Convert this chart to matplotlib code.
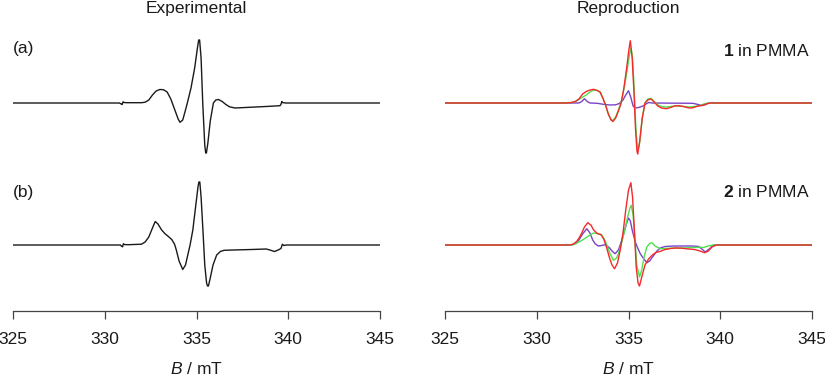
import matplotlib
matplotlib.use("Agg")
import matplotlib.pyplot as plt

plt.rcParams['font.family'] = ['Liberation Sans', 'DejaVu Sans']
plt.rcParams['mathtext.fontset'] = 'custom'
plt.rcParams['mathtext.rm'] = 'Liberation Sans'
plt.rcParams['mathtext.it'] = 'Liberation Sans:italic'
plt.rcParams['mathtext.bf'] = 'Liberation Sans:bold'

# ---------------------------------------------------------------- data --- #
# field (mT) and intensity (arb. units)

# experimental (a) - 1 in PMMA
exp_a_B = [325.0, 330.8, 330.9, 330.95, 331.0, 331.05, 331.2, 332.0, 332.2, 332.4,
           332.6, 332.8, 333.0, 333.2, 333.4, 333.6, 333.8, 334.0, 334.1, 334.25,
           334.4, 334.5, 334.7, 334.9, 335.05, 335.12, 335.17, 335.25, 335.34, 335.45,
           335.5, 335.54, 335.62, 335.75, 335.92, 336.05, 336.2, 336.4, 336.6, 336.8,
           337.1, 338.0, 339.0, 339.55, 339.6, 339.65, 339.7, 339.9, 345.0]
exp_a_I = [0, 0, -1.0, -1.5, 1.2, 0.5, 0.3, 0.3, 0.8, 3,
           8, 12, 13.5, 13.3, 11, 4, -6, -16, -19.3, -17,
           -7, 0, 15, 35, 55, 63, 63, 45, 0, -42,
           -50, -50, -40, -18, 0, 3, 3.5, 1.5, -1.5, -3.8,
           -5, -4.2, -3.3, -2.7, -1.5, 1.5, 0.3, 0, 0]

# experimental (b) - 2 in PMMA
exp_b_B = [325.0, 330.85, 330.92, 330.97, 331.02, 331.08, 331.3, 332.0, 332.2, 332.4,
           332.6, 332.75, 332.9, 333.1, 333.3, 333.5, 333.65, 333.8, 333.9, 334.05,
           334.25, 334.4, 334.55, 334.65, 334.8, 334.95, 335.08, 335.13, 335.18, 335.25,
           335.35, 335.45, 335.55, 335.6, 335.65, 335.75, 335.9, 336.1, 336.3, 336.5,
           337.0, 338.0, 338.8, 339.0, 339.25, 339.45, 339.6, 339.68, 339.75, 339.9,
           345.0]
exp_b_I = [0, 0, -1.3, -1.8, 1.3, 0.4, 0.3, 0.8, 3, 8,
           17, 23.5, 21, 15, 11, 8, 5.5, 1, -5, -16,
           -24.5, -20, -8, 0, 15, 38, 58, 63, 63, 48,
           15, -20, -38, -41, -41, -33, -20, -10, -6.5, -5.3,
           -5, -4.5, -4, -5, -6.5, -5, -3.5, 0.8, -0.5, 0,
           0]

# reproduction (a)
rep_a_red_B = [325.0, 331.6, 331.9, 332.1, 332.3, 332.5, 332.7, 332.9, 333.1, 333.3,
               333.45, 333.6, 333.75, 333.9, 334.05, 334.15, 334.3, 334.45, 334.6, 334.75,
               334.9, 335.02, 335.1, 335.2, 335.3, 335.38, 335.46, 335.5, 335.6, 335.75,
               335.9, 336.05, 336.22, 336.4, 336.6, 336.8, 337.05, 337.3, 337.5, 337.75,
               338.0, 338.3, 338.5, 338.7, 338.9, 339.1, 339.3, 339.5, 345.0]
rep_a_red_I = [0, 0, 0.5, 1.5, 4, 9, 11.5, 13, 13.7, 12.5,
               11, 5, -2, -11, -17, -18.5, -15, -8, 0, 15,
               35, 53, 62.3, 45, 10, -25, -48, -51, -40, -15,
               0, 3, 4, 1, -3, -5, -5.7, -4.5, -3, -2.7,
               -3.5, -5, -4.8, -3.5, -2.7, -2, -0.5, 0, 0]

rep_a_green_B = [325.0, 331.6, 331.9, 332.1, 332.3, 332.5, 332.7, 332.9, 333.1, 333.3,
                 333.45, 333.6, 333.75, 333.9, 334.05, 334.15, 334.3, 334.45, 334.6, 334.75,
                 334.9, 335.05, 335.14, 335.22, 335.32, 335.4, 335.48, 335.53, 335.62, 335.75,
                 335.9, 336.05, 336.22, 336.4, 336.6, 336.8, 337.05, 337.3, 337.6, 338.0,
                 338.3, 338.6, 338.9, 339.1, 339.3, 339.5, 345.0]
rep_a_green_I = [0, 0, 0.5, 1.5, 3.5, 6, 8, 11, 13, 12.5,
                 11, 5, -2, -11, -16.5, -17.5, -14, -7, 1, 14,
                 30, 48, 55, 45, 10, -25, -44, -46, -38, -15,
                 0, 4, 4.7, 1.5, -2, -3.5, -4, -3.5, -3, -3.5,
                 -4, -3.5, -2.5, -1, -0.3, 0, 0]

rep_a_purple_B = [325.0, 332.3, 332.45, 332.6, 332.75, 332.9, 333.3, 333.7, 334.0, 334.3,
                  334.5, 334.7, 334.85, 335.0, 335.12, 335.25, 335.37, 335.55, 335.75, 335.95,
                  336.1, 336.3, 338.5, 338.8, 339.0, 339.2, 339.4, 345.0]
rep_a_purple_I = [0, 0, 1.5, 4.3, 1.5, 0, -0.3, -1.5, -2, -1.8,
                  -0.5, 3, 8, 12.3, 6, -3, -5, -4.5, -3.3, -1,
                  0.5, 0, -0.3, -1.5, -2.7, -1.5, 0, 0]

# reproduction (b)
rep_b_red_B = [325.0, 331.8, 332.0, 332.2, 332.4, 332.6, 332.78, 332.95, 333.1, 333.3,
               333.5, 333.65, 333.8, 333.95, 334.1, 334.24, 334.4, 334.55, 334.7, 334.85,
               335.0, 335.13, 335.22, 335.32, 335.42, 335.52, 335.6, 335.75, 335.9, 336.09,
               336.3, 336.5, 336.73, 337.0, 337.3, 337.55, 337.9, 338.27, 338.6, 338.9,
               339.15, 339.35, 339.55, 339.8, 345.0]
rep_b_red_I = [0, 0, 1, 4, 10, 18, 22.3, 20, 15, 11.5,
               10.5, 6, -2, -12, -20, -23.7, -18, -5, 12, 35,
               55, 62.3, 48, 15, -22, -38, -41, -30, -20, -14,
               -10, -7.5, -6.3, -4.5, -3.5, -3, -3.2, -4, -4.5, -6,
               -7.7, -6, -2, 0, 0]

rep_b_green_B = [325.0, 331.9, 332.1, 332.3, 332.46, 332.7, 332.9, 333.09, 333.3, 333.55,
                 333.7, 333.82, 334.0, 334.18, 334.35, 334.5, 334.65, 334.8, 334.95, 335.08,
                 335.15, 335.25, 335.35, 335.45, 335.6, 335.72, 335.85, 336.0, 336.15, 336.28,
                 336.45, 336.73, 337.0, 337.5, 338.0, 338.5, 338.9, 339.1, 339.3, 339.6, 345.0]
rep_b_green_I = [0, 0, 1, 3, 4.7, 7.5, 10, 12, 11.5, 9.7,
                 5, 0, -9, -15.3, -13, -6, 4, 15, 28, 37,
                 39.7, 30, 5, -20, -32, -25, -12, -2, 1.5, 2.3,
                 -1, -3.7, -3.5, -3, -3, -2.5, -2.2, -2.5, -1.2, 0, 0]

rep_b_purple_B = [325.0, 331.9, 332.1, 332.3, 332.5, 332.73, 332.9, 333.05, 333.18, 333.35,
                  333.55, 333.73, 333.95, 334.1, 334.27, 334.45, 334.6, 334.75, 334.9, 335.0,
                  335.1, 335.2, 335.37, 335.5, 335.64, 335.8, 336.0, 336.15, 336.35, 336.55,
                  336.73, 337.0, 337.5, 338.0, 338.5, 338.82, 339.0, 339.18, 339.4, 339.64, 345.0]
rep_b_purple_I = [0, 0, 1.5, 5, 11, 16.3, 12, 5, 1.3, -1,
                  -0.5, 0.3, -2.5, -6, -8.7, -5, 3, 12, 22, 27,
                  24, 15, 3, -3, -8.7, -13, -17.7, -16, -11, -6,
                  -3, -1.5, -1, -1, -1, -1.5, -4, -7, -4, 0, 0]

ticks = [325, 330, 335, 340, 345]

# ------------------------------------------------------------- layout --- #

W, H = 825, 377
fig = plt.figure(figsize=(W / 100, H / 100), dpi=100)

# axes in pixel units: spine at y=311 px, top at y=30 px
ax_l = fig.add_axes([13 / W, 1 - 311 / H, 367 / W, 281 / H])
ax_r = fig.add_axes([445 / W, 1 - 311 / H, 367 / W, 281 / H])

off_a = 311 - 103   # baseline of row (a)
off_b = 311 - 245   # baseline of row (b)

lw = 1.0
fs = 12.5
k = '#1a1a1a'
red, green, purple = '#f42a2a', '#4ee24e', '#7a44c8'


def shift(vals, off):
    return [v + off for v in vals]


ax_l.plot(exp_a_B, shift(exp_a_I, off_a), color=k, lw=lw)
ax_l.plot(exp_b_B, shift(exp_b_I, off_b), color=k, lw=lw)

ax_r.plot(rep_a_purple_B, shift(rep_a_purple_I, off_a), color=purple, lw=lw)
ax_r.plot(rep_a_green_B, shift(rep_a_green_I, off_a), color=green, lw=lw)
ax_r.plot(rep_a_red_B, shift(rep_a_red_I, off_a), color=red, lw=lw)

ax_r.plot(rep_b_purple_B, shift(rep_b_purple_I, off_b), color=purple, lw=lw)
ax_r.plot(rep_b_green_B, shift(rep_b_green_I, off_b), color=green, lw=lw)
ax_r.plot(rep_b_red_B, shift(rep_b_red_I, off_b), color=red, lw=lw)

for ax in (ax_l, ax_r):
    ax.set_xlim(325, 345)
    ax.set_ylim(0, 281)
    for s in ('left', 'right', 'top'):
        ax.spines[s].set_visible(False)
    ax.spines['bottom'].set_color('#444444')
    ax.spines['bottom'].set_linewidth(0.9)
    ax.set_yticks([])
    ax.set_xticks(ticks)
    ax.tick_params(axis='x', direction='out', length=5.5, width=0.9,
                   color='#444444', pad=9.5, labelsize=fs, labelcolor=k)
    ax.set_xlabel(r'$B$ / mT', fontsize=fs, labelpad=10, color=k)
    ax.patch.set_alpha(0)

# titles and labels
fig.text(196.5 / W, 1 - 12.7 / H, 'Experimental', ha='center', va='baseline',
         fontsize=fs, color=k)
fig.text(628.5 / W, 1 - 12.7 / H, 'Reproduction', ha='center', va='baseline',
         fontsize=fs, color=k)
fig.text(13 / W, 1 - 49 / H, '(a)', ha='left', va='center', fontsize=fs, color=k)
fig.text(13 / W, 1 - 192 / H, '(b)', ha='left', va='center', fontsize=fs, color=k)
fig.text(810 / W, 1 - 51 / H, r'$\mathbf{1}$ in PMMA', ha='right', va='center',
         fontsize=fs, color=k)
fig.text(810 / W, 1 - 192 / H, r'$\mathbf{2}$ in PMMA', ha='right', va='center',
         fontsize=fs, color=k)

fig.savefig('out.png', dpi=100)
